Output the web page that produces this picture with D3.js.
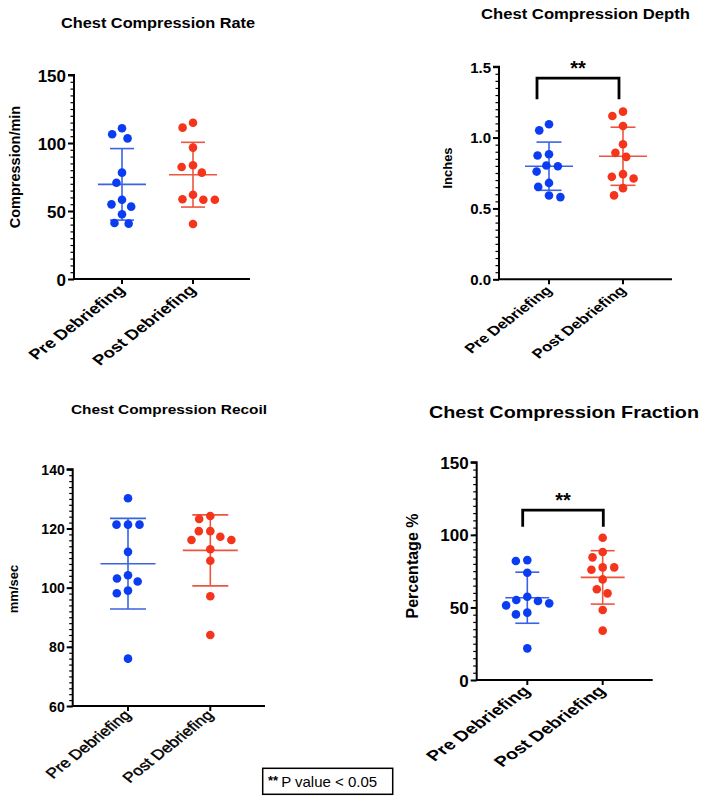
<!DOCTYPE html>
<html><head><meta charset="utf-8">
<script src="https://cdn.jsdelivr.net/npm/d3@7"></script>
<style>
html,body{margin:0;padding:0;background:#fff;}
svg{display:block;font-family:"Liberation Sans",Arial,Helvetica,sans-serif;}
</style></head>
<body><svg id="chart" width="708" height="800"></svg>
<script>
// ---------- data ----------
const categories = ["Pre Debriefing", "Post Debriefing"];

const rateTicks = [0, 50, 100, 150];
const ratePre  = [110.8, 106.4, 103.4, 78.2, 70.8, 58.3, 54.9, 53.2, 47.6, 41.2, 40.7];
const ratePost = [114.9, 111.3, 96.6, 83.6, 82.3, 78.2, 62.0, 58.6, 58.3, 58.3, 40.4];
const rateMean = [69.6, 76.7];
const rateSD   = [26.3, 23.8];

const depthTicks = [0.0, 0.5, 1.0, 1.5];
const depthPre  = [1.094, 1.051, 0.882, 0.873, 0.803, 0.798, 0.760, 0.680, 0.652, 0.591, 0.580];
const depthPost = [1.183, 1.152, 1.082, 0.953, 0.892, 0.864, 0.742, 0.723, 0.711, 0.643, 0.592];
const depthMean = [0.798, 0.868];
const depthSD   = [0.170, 0.205];

const recoilTicks = [60, 80, 100, 120, 140];
const recoilPre  = [130.2, 121.3, 121.3, 121.3, 112.1, 104.2, 103.1, 102.1, 99.0, 98.1, 76.0];
const recoilPost = [124.2, 123.2, 119.1, 119.1, 117.2, 116.1, 116.1, 113.0, 109.1, 97.1, 84.0];
const recoilMean = [108.1, 112.6];
const recoilSD   = [15.3, 12.0];

const fractionTicks = [0, 50, 100, 150];
const fractionPre  = [82.6, 82.0, 73.9, 57.4, 55.1, 54.4, 52.8, 51.4, 46.4, 45.2, 21.8];
const fractionPost = [98.0, 88.2, 84.5, 77.6, 77.6, 76.0, 69.3, 62.5, 59.7, 48.2, 34.0];
const fractionMean = [56.7, 70.7];
const fractionSD   = [17.6, 18.4];

const sigLabel = "**";
const legendText = "P value < 0.05";

// ---------- drawing ----------
const svg = d3.select("#chart");
const BLUE = "#0a3cf2", RED = "#f5341c";
const BLUE_LINE = "#3a62e6", RED_LINE = "#ec5640";

function dodge(values, y, d) {
  const placed = [];
  return values.map(v => {
    const py = y(v);
    const iv = [];
    placed.forEach(p => {
      const dy = Math.abs(p.y - py);
      if (dy < d) { const w = Math.sqrt(d * d - dy * dy); iv.push([p.x - w, p.x + w]); }
    });
    const cands = [0];
    iv.forEach(([a, b]) => cands.push(a, b));
    cands.sort((a, b) => Math.abs(a) - Math.abs(b));
    const x = cands.find(c => iv.every(([a, b]) => c <= a + 1e-6 || c >= b - 1e-6));
    placed.push({ x, y: py });
    return { v, dx: x, y: py };
  });
}

function panel(cfg) {
  const g = svg.append("g");
  const y = d3.scaleLinear().domain(cfg.domain).range([cfg.bottom, cfg.top]);
  const x = d3.scalePoint().domain(categories).range([cfg.xPre, cfg.xPost]);

  // title
  g.append("text").attr("x", cfg.titleX).attr("y", cfg.titleY)
    .attr("text-anchor", "middle").attr("font-weight", "bold")
    .attr("font-size", cfg.titleSize)
    .attr("textLength", cfg.titleW).attr("lengthAdjust", "spacingAndGlyphs")
    .text(cfg.title);

  // minor ticks
  const minor = g.append("g").attr("transform", `translate(${cfg.left},0)`)
    .call(d3.axisLeft(y).tickValues(d3.range(cfg.domain[0], cfg.domain[1] + cfg.minor / 2, cfg.minor)).tickSize(3.5).tickFormat(""));
  minor.select(".domain").remove();
  minor.selectAll("line").attr("stroke", "#000").attr("stroke-width", 1.2);

  // major axis
  const ya = g.append("g").attr("transform", `translate(${cfg.left},0)`)
    .call(d3.axisLeft(y).tickValues(cfg.ticks).tickSize(6).tickPadding(2).tickFormat(cfg.fmt));
  ya.select(".domain").attr("stroke", "#000").attr("stroke-width", 2).attr("d", `M-6,${cfg.top}H0V${cfg.bottom}`);
  ya.selectAll(".tick line").attr("stroke", "#000").attr("stroke-width", 2);
  ya.selectAll(".tick text").attr("font-family", "Liberation Sans, Arial, sans-serif")
    .attr("font-weight", "bold").attr("font-size", cfg.tickSize).attr("fill", "#000")
    .attr("dy", "0.36em");

  // x axis
  g.append("line").attr("x1", cfg.left).attr("x2", cfg.right)
    .attr("y1", cfg.bottom).attr("y2", cfg.bottom).attr("stroke", "#000").attr("stroke-width", 2);
  categories.forEach(c => {
    g.append("line").attr("x1", x(c)).attr("x2", x(c)).attr("y1", cfg.bottom).attr("y2", cfg.bottom + 5)
      .attr("stroke", "#000").attr("stroke-width", 2);
    g.append("text")
      .attr("transform", `translate(${x(c) + cfg.xlOff},${cfg.bottom + cfg.xlDown}) scale(${cfg.xlSx},1) rotate(-45)`)
      .attr("text-anchor", "end").attr("font-weight", cfg.xlWeight)
      .attr("stroke", cfg.xlStroke ? "#000" : null).attr("stroke-width", cfg.xlStroke || null)
      .attr("font-size", cfg.xlSize).text(c);
  });

  // y label
  g.append("text").attr("transform", `translate(${cfg.ylX},${cfg.ylY}) rotate(-90)`)
    .attr("text-anchor", "middle").attr("font-weight", "bold")
    .attr("font-size", cfg.ylSize).text(cfg.ylabel);

  // series
  const series = [cfg.pre, cfg.post];
  const dots = [BLUE, RED], lines = [BLUE_LINE, RED_LINE];
  series.forEach((vals, i) => {
    const cx = x(categories[i]);
    const m = cfg.mean[i], s = cfg.sd[i];
    const eg = g.append("g").attr("stroke", lines[i]).attr("stroke-width", 1.6);
    eg.append("line").attr("x1", cx).attr("x2", cx).attr("y1", y(m + s)).attr("y2", y(m - s));
    eg.append("line").attr("x1", cx - cfg.meanW).attr("x2", cx + cfg.meanW).attr("y1", y(m)).attr("y2", y(m));
    [m + s, m - s].forEach(v => eg.append("line").attr("x1", cx - cfg.capW).attr("x2", cx + cfg.capW).attr("y1", y(v)).attr("y2", y(v)));
    const pts = dodge(vals, y, 11.5);
    g.selectAll(null).data(pts).enter().append("circle")
      .attr("cx", p => cx + p.dx).attr("cy", p => p.y).attr("r", 4.3).attr("fill", dots[i]);
  });

  // significance bracket
  if (cfg.sig) {
    const x1 = x(categories[0]) + cfg.sig.inset[0], x2 = x(categories[1]) + cfg.sig.inset[1];
    const yt = y(cfg.sig.top), yb = y(cfg.sig.bottom);
    g.append("path").attr("d", `M${x1},${yb}V${yt}H${x2}V${yb}`)
      .attr("fill", "none").attr("stroke", "#000").attr("stroke-width", 2.8);
    g.append("text").attr("x", (x1 + x2) / 2).attr("y", yt - 3)
      .attr("text-anchor", "middle").attr("font-weight", "bold").attr("font-size", 20).text(sigLabel);
  }
}

panel({
  title: "Chest Compression Rate", titleX: 158, titleY: 28, titleSize: 14, titleW: 194,
  domain: [0, 150], ticks: rateTicks, minor: 5, fmt: d3.format("d"), tickSize: 17,
  left: 74, right: 250, top: 75, bottom: 279, xPre: 122, xPost: 193,
  ylabel: "Compression/min", ylX: 19.5, ylY: 167, ylSize: 14.5,
  xlSize: 14.4, xlWeight: "bold", xlSx: 1.29, xlOff: 4, xlDown: 12,
  pre: ratePre, post: ratePost, mean: rateMean, sd: rateSD, meanW: 24, capW: 12
});
panel({
  title: "Chest Compression Depth", titleX: 585.5, titleY: 19, titleSize: 14, titleW: 209,
  domain: [0, 1.5], ticks: depthTicks, minor: 0.05, fmt: d3.format(".1f"), tickSize: 15,
  left: 499, right: 672, top: 66.7, bottom: 279.3, xPre: 549, xPost: 623,
  ylabel: "Inches", ylX: 452, ylY: 168, ylSize: 13,
  xlSize: 13, xlWeight: "bold", xlSx: 1.3, xlOff: 4, xlDown: 12,
  pre: depthPre, post: depthPost, mean: depthMean, sd: depthSD, meanW: 24, capW: 12.5,
  sig: { top: 1.42, bottom: 1.27, inset: [-12, -4] }
});
panel({
  title: "Chest Compression Recoil", titleX: 169, titleY: 414, titleSize: 13.5, titleW: 196,
  domain: [60, 140], ticks: recoilTicks, minor: 2, fmt: d3.format("d"), tickSize: 14,
  left: 72.7, right: 265, top: 469.3, bottom: 706, xPre: 128, xPost: 210.3,
  ylabel: "mm/sec", ylX: 18, ylY: 589, ylSize: 13,
  xlSize: 14, xlWeight: "normal", xlStroke: 0.4, xlSx: 1.25, xlOff: 4, xlDown: 10,
  pre: recoilPre, post: recoilPost, mean: recoilMean, sd: recoilSD, meanW: 27.5, capW: 18
});
panel({
  title: "Chest Compression Fraction", titleX: 564, titleY: 418, titleSize: 17, titleW: 270,
  domain: [0, 150], ticks: fractionTicks, minor: 5, fmt: d3.format("d"), tickSize: 17,
  left: 476.7, right: 652.7, top: 462.3, bottom: 680, xPre: 527.3, xPost: 602.7,
  ylabel: "Percentage %", ylX: 418, ylY: 566, ylSize: 16,
  xlSize: 14.5, xlWeight: "bold", xlSx: 1.38, xlOff: 4, xlDown: 12,
  pre: fractionPre, post: fractionPost, mean: fractionMean, sd: fractionSD, meanW: 22, capW: 12,
  sig: { top: 117, bottom: 105.6, inset: [-4.6, 0.6] }
});

// legend
const lg = svg.append("g");
lg.append("rect").attr("x", 262.7).attr("y", 768.3).attr("width", 130).attr("height", 26)
  .attr("fill", "#fff").attr("stroke", "#000").attr("stroke-width", 1.5);
const lt = lg.append("text").attr("x", 268).attr("y", 787).attr("font-size", 15);
lt.append("tspan").attr("font-weight", "bold").attr("font-size", 13).attr("dy", -2).text(sigLabel);
lt.append("tspan").attr("dy", 2).attr("dx", 3).text(legendText);
</script></body></html>
